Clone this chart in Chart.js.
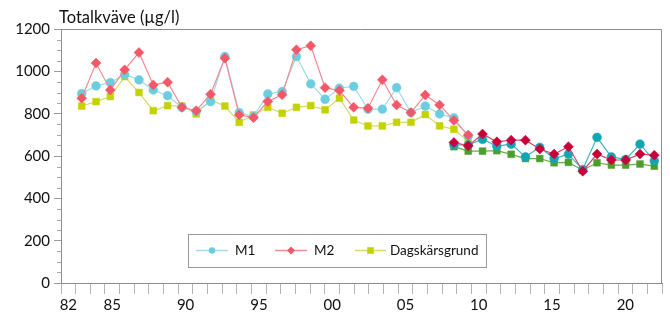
<!DOCTYPE html>
<html>
<head>
<meta charset="utf-8">
<script src="https://cdn.jsdelivr.net/npm/chart.js@4/dist/chart.umd.min.js"></script>
<style>
html,body{margin:0;padding:0;background:#fff;}
#wrap{width:670px;height:318px;position:relative;}
</style>
</head>
<body>
<div id="wrap"><canvas id="c" width="670" height="318"></canvas></div>
<script>
// ---- data ----
const years = [];
for (let y = 1982; y <= 2022; y++) years.push(y);
const labelYears = [1982, 1985, 1990, 1995, 2000, 2005, 2010, 2015, 2020];
const yTicks = [0, 200, 400, 600, 800, 1000, 1200];

// early monitoring series, 1982-2009
const earlyStart = 1982;
const m1Early  = [895, 931, 947, 985, 960, 912, 885, 830, 810, 857, 1070, 805, 786, 893, 904, 1070, 941, 868, 920, 929, 821, 821, 923, 805, 836, 799, 780, 694];
const m2Early  = [873, 1039, 912, 1007, 1089, 936, 949, 830, 814, 892, 1062, 794, 781, 857, 889, 1102, 1121, 923, 909, 830, 826, 960, 841, 805, 888, 841, 768, 699];
const dagEarly = [836, 857, 881, 975, 900, 814, 838, 836, 799, 865, 836, 759, 794, 830, 802, 830, 838, 818, 873, 770, 742, 742, 759, 759, 796, 742, 726, 670];

// later series, 2008-2022
const lateStart = 2008;
const m1Late  = [652, 652, 679, 647, 656, 596, 641, 588, 609, 536, 688, 596, 584, 656, 577];
const m2Late  = [664, 648, 704, 667, 675, 675, 633, 609, 644, 528, 609, 581, 581, 609, 604];
const dagLate = [644, 623, 623, 625, 608, 588, 588, 568, 570, 533, 568, 557, 557, 562, 552];

const seriesNames = ['M1', 'M2', 'Dagskärsgrund'];

// ---- styles ----
const FONT = 'Lato, "Open Sans", sans-serif';
const col = {
  m1:  {pt: '#6ccde0', ln: '#9fdbe8'},
  m2:  {pt: '#f25867', ln: '#f08a93'},
  dag: {pt: '#c3d200', ln: '#d3dc66'},
  m1d: {pt: '#12a6b4', ln: '#3fb4c0'},
  m2d: {pt: '#c80039', ln: '#d44a6a'},
  dagd:{pt: '#4c9e2c', ln: '#6aac4e'}
};
const AXIS = '#8c8c8c';

function pts(start, vals) { return vals.map((v, i) => ({x: start + i, y: v})); }

function ds(label, data, c, style, radius, order) {
  return {
    label: label, data: data, xAxisID: 'x', yAxisID: 'y',
    borderColor: c.ln, borderWidth: 1.2,
    pointBackgroundColor: c.pt, pointBorderColor: c.pt, pointBorderWidth: 0.5,
    pointStyle: style, pointRadius: radius, pointHoverRadius: radius,
    tension: 0, fill: false, order: order
  };
}

const datasets = [
  ds(seriesNames[0], pts(earlyStart, m1Early), col.m1, 'circle', 4.4, 4),
  ds(seriesNames[1], pts(earlyStart, m2Early), col.m2, 'rectRot', 5, 3),
  ds(seriesNames[2], pts(earlyStart, dagEarly), col.dag, 'rect', 4.8, 5),
  ds(seriesNames[0], pts(lateStart, m1Late), col.m1d, 'circle', 4.4, 1),
  ds(seriesNames[1], pts(lateStart, m2Late), col.m2d, 'rectRot', 5, 0),
  ds(seriesNames[2], pts(lateStart, dagLate), col.dagd, 'rect', 4.8, 2)
];

// ---- decorations: frame, minor ticks, title, legend ----
const decor = {
  id: 'decor',
  afterDraw(chart) {
    const ctx = chart.ctx;
    const a = chart.chartArea;
    const ys = chart.scales.y;
    ctx.save();
    // frame top & right
    ctx.strokeStyle = AXIS; ctx.lineWidth = 1;
    ctx.beginPath();
    ctx.moveTo(Math.round(a.left) + 0.5, Math.round(a.top) + 0.5);
    ctx.lineTo(Math.round(a.right) - 0.5, Math.round(a.top) + 0.5);
    ctx.lineTo(Math.round(a.right) - 0.5, Math.round(a.bottom) + 0.5);
    ctx.stroke();
    // minor y ticks
    ctx.strokeStyle = '#a8a8a8';
    ctx.beginPath();
    for (let v = 0; v <= 1200; v += 50) {
      if (v % 200 === 0) continue;
      const py = Math.round(ys.getPixelForValue(v)) + 0.5;
      ctx.moveTo(a.left - 4, py); ctx.lineTo(a.left, py);
    }
    ctx.stroke();
    // title
    ctx.fillStyle = '#111';
    ctx.font = '16.5px ' + FONT;
    ctx.textAlign = 'left'; ctx.textBaseline = 'alphabetic';
    ctx.fillText('Totalkväve (µg/l)', 59, 23);
    // legend
    ctx.strokeStyle = '#9a9a9a'; ctx.lineWidth = 1;
    ctx.fillStyle = '#fff';
    ctx.fillRect(188.5, 234.5, 298, 33);
    ctx.strokeRect(188.5, 234.5, 298, 33);
    const ly = 250.5;
    const items = [
      {c: col.m1, s: 'circle', x0: 196, x1: 228, mx: 212, tx: 235, t: seriesNames[0]},
      {c: col.m2, s: 'diamond', x0: 275, x1: 307, mx: 291, tx: 314, t: seriesNames[1]},
      {c: col.dag, s: 'square', x0: 355, x1: 386, mx: 370.5, tx: 390, t: seriesNames[2]}
    ];
    ctx.font = '13.5px ' + FONT;
    ctx.textBaseline = 'middle';
    items.forEach(it => {
      ctx.strokeStyle = it.c.ln; ctx.lineWidth = 1.5;
      ctx.beginPath(); ctx.moveTo(it.x0, ly); ctx.lineTo(it.x1, ly); ctx.stroke();
      ctx.fillStyle = it.c.pt;
      ctx.beginPath();
      if (it.s === 'circle') { ctx.arc(it.mx, ly, 3.2, 0, Math.PI * 2); }
      else if (it.s === 'diamond') { ctx.moveTo(it.mx, ly - 4); ctx.lineTo(it.mx + 4, ly); ctx.lineTo(it.mx, ly + 4); ctx.lineTo(it.mx - 4, ly); ctx.closePath(); }
      else { ctx.rect(it.mx - 3.3, ly - 3.3, 6.6, 6.6); }
      ctx.fill();
      ctx.fillStyle = '#111';
      ctx.fillText(it.t, it.tx, ly + 0.5);
    });
    ctx.restore();
  }
};

new Chart(document.getElementById('c'), {
  type: 'line',
  data: { labels: years.map(String), datasets: datasets },
  options: {
    responsive: false, animation: false, devicePixelRatio: 1,
    layout: { padding: { top: 29, right: 8, left: 0, bottom: 0 } },
    plugins: { legend: { display: false }, title: { display: false }, tooltip: { enabled: false } },
    scales: {
      x: {
        type: 'linear', display: false,
        min: 1980.553, max: 2022.538
      },
      xt: {
        type: 'category', position: 'bottom', offset: true,
        grid: { offset: true, drawOnChartArea: false, drawTicks: true, tickLength: 11, tickColor: '#b4b4b4', tickWidth: 1 },
        border: { display: true, color: AXIS, width: 1 },
        ticks: {
          autoSkip: false, maxRotation: 0, minRotation: 0, padding: 2,
          color: '#111', font: { family: FONT, size: 15 },
          callback: function (v, i) {
            const yr = years[i];
            return labelYears.includes(yr) ? String(yr).slice(2) : '';
          }
        },
        afterFit: s => { s.height = 35; }
      },
      y: {
        type: 'linear', position: 'left', min: 0, max: 1200,
        afterBuildTicks: s => { s.ticks = yTicks.map(v => ({value: v})); },
        grid: { drawOnChartArea: false, drawTicks: true, tickLength: 7, tickColor: '#9a9a9a' },
        border: { display: true, color: AXIS, width: 1 },
        ticks: { color: '#111', padding: 4, font: { family: FONT, size: 15 }, callback: v => String(v) },
        afterFit: s => { s.width = 61; }
      }
    }
  },
  plugins: [decor]
});
</script>
</body>
</html>
